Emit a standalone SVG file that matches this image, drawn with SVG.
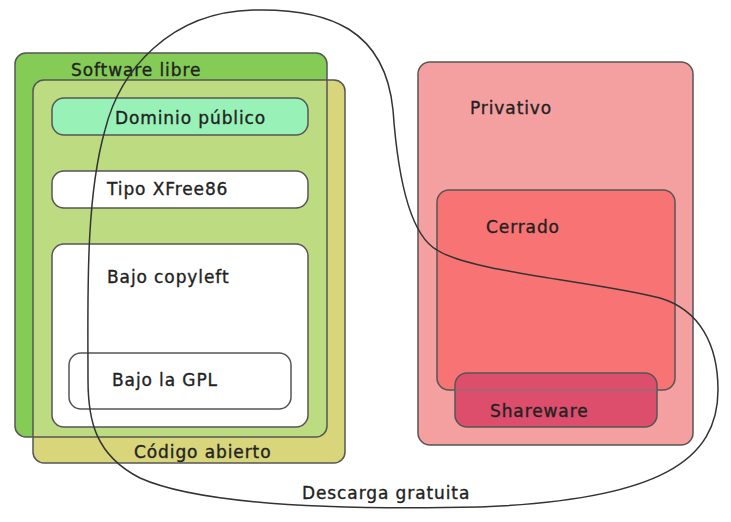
<svg xmlns="http://www.w3.org/2000/svg" width="731" height="522" viewBox="0 0 731 522">
<style>
.b{stroke:#555;stroke-width:1.5}
.t{font-family:"DejaVu Sans",sans-serif;font-size:17px;fill:#222;letter-spacing:0.9px;stroke:#222;stroke-width:0.35}
</style>
<rect width="731" height="522" fill="#fff"/>
<g id="software-libre">
<rect x="15" y="53" width="312" height="384" rx="11" fill="#84cc56"/>
</g>
<g id="codigo-abierto">
<rect x="33" y="80" width="312" height="383" rx="11" fill="#d8d57b"/>
<rect x="33" y="80" width="294" height="357" rx="11" fill="#bddc82"/>
<rect x="15" y="53" width="312" height="384" rx="11" fill="none" class="b"/>
<rect x="33" y="80" width="312" height="383" rx="11" fill="none" class="b"/>
<text class="t" x="71" y="76">Software libre</text>
<text class="t" x="134" y="458">Código abierto</text>
</g>
<g id="dominio-publico">
<rect x="52" y="98" width="256" height="37" rx="12" fill="#98f2b8" class="b"/>
<text class="t" x="115" y="124">Dominio público</text>
</g>
<g id="tipo-xfree86">
<rect x="52" y="171" width="256" height="37" rx="12" fill="#fff" class="b"/>
<text class="t" x="107" y="195">Tipo XFree86</text>
</g>
<g id="bajo-copyleft">
<rect x="52" y="244" width="256" height="183" rx="12" fill="#fff" class="b"/>
<text class="t" x="107" y="283">Bajo copyleft</text>
</g>
<g id="bajo-gpl">
<rect x="69" y="353" width="222" height="56" rx="12" fill="#fff" class="b"/>
<text class="t" x="112" y="386">Bajo la GPL</text>
</g>
<g id="privativo">
<rect x="418" y="62" width="275" height="383" rx="12" fill="#f5a0a0" class="b"/>
<text class="t" x="470" y="114">Privativo</text>
</g>
<g id="cerrado">
<rect x="437" y="190" width="238" height="200" rx="12" fill="#f87474" class="b"/>
<text class="t" x="486" y="233">Cerrado</text>
</g>
<g id="shareware">
<rect x="455" y="373" width="202" height="54" rx="12" fill="#dc4e6c" class="b"/>
<line x1="455" y1="390" x2="657" y2="390" stroke="#777" stroke-width="1"/>
<text class="t" x="490" y="417">Shareware</text>
</g>
<g id="connectors">
<path d="M 253 10 C 330 8, 385 30, 393 110 C 398 180, 410 235, 437 250 C 470 272, 600 282, 660 298 C 700 310, 718 345, 718 390 C 718 460, 660 500, 480 507 C 340 510, 200 505, 140 478 C 95 455, 88 420, 88 380 C 88 300, 85 200, 105 130 C 120 70, 170 12, 253 10 Z" fill="none" stroke="#333" stroke-width="1.5"/>
</g>
<g id="descarga-gratuita">
<text class="t" x="302" y="499">Descarga gratuita</text>
</g>
</svg>
